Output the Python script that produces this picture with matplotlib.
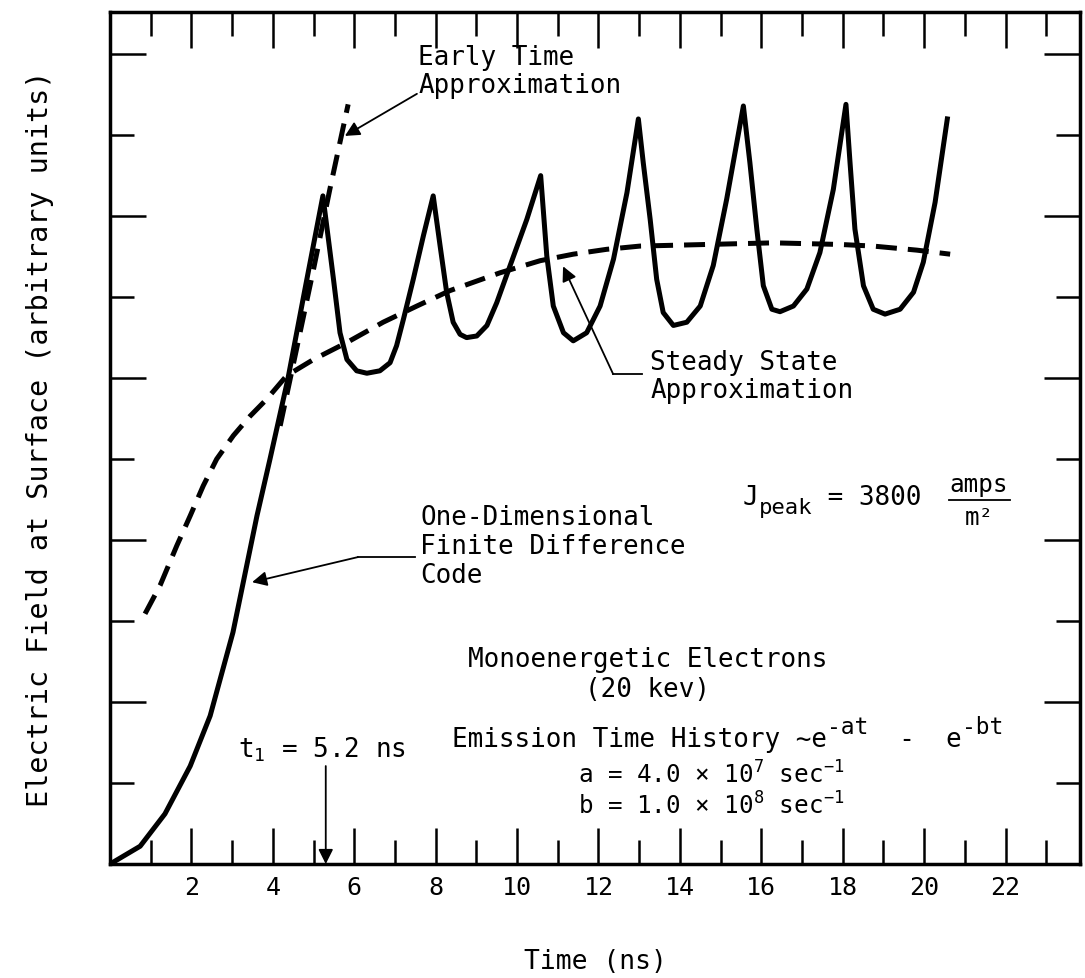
import matplotlib.pyplot as plt

plt.rcParams['font.family'] = ['DejaVu Sans Mono', 'DejaVu Sans']
plt.rcParams['mathtext.fontset'] = 'custom'
plt.rcParams['mathtext.rm'] = 'DejaVu Sans Mono'
plt.rcParams['mathtext.it'] = 'DejaVu Sans Mono'
plt.rcParams['mathtext.bf'] = 'DejaVu Sans Mono:bold'

# one-dimensional finite difference code (solid)
t_code = [0, 0.74, 1.35, 1.97, 2.46, 3.02, 3.61, 3.93, 4.37, 4.79, 5.23,
          5.49, 5.65, 5.82, 6.06, 6.31, 6.63, 6.88, 7.04, 7.21, 7.45, 7.70, 7.94,
          8.11, 8.27, 8.43, 8.60, 8.76, 9.01, 9.26, 9.50, 9.83, 10.24, 10.58,
          10.73, 10.89, 11.14, 11.38, 11.71, 12.04, 12.37, 12.70, 12.98,
          13.10, 13.27, 13.43, 13.59, 13.84, 14.17, 14.50, 14.82, 15.15, 15.56,
          15.72, 15.89, 16.05, 16.26, 16.46, 16.79, 17.12, 17.44, 17.77, 18.08,
          18.18, 18.30, 18.51, 18.75, 19.04, 19.41, 19.74, 19.98, 20.27, 20.57]
e_code = [0, 0.22, 0.62, 1.21, 1.83, 2.86, 4.30, 5.00, 5.99, 7.10, 8.25,
          7.22, 6.56, 6.23, 6.09, 6.06, 6.09, 6.19, 6.40, 6.73, 7.22, 7.76, 8.25,
          7.63, 7.06, 6.69, 6.54, 6.50, 6.52, 6.65, 6.93, 7.39, 7.96, 8.50,
          7.51, 6.89, 6.56, 6.46, 6.56, 6.89, 7.47, 8.29, 9.20,
          8.66, 7.96, 7.22, 6.81, 6.65, 6.69, 6.89, 7.39, 8.21, 9.36,
          8.66, 7.84, 7.14, 6.85, 6.82, 6.89, 7.10, 7.55, 8.33, 9.38,
          8.66, 7.84, 7.14, 6.85, 6.79, 6.85, 7.06, 7.43, 8.17, 9.20]

# steady state approximation (dashed)
t_steady = [0.86, 1.23, 1.64, 1.97, 2.29, 2.62, 3.03, 3.44, 3.85, 4.34, 5.00,
            5.82, 6.71, 7.54, 8.35, 9.58, 10.57, 11.38, 12.20, 13.02, 14.66,
            16.30, 17.94, 18.75, 19.82, 20.64]
e_steady = [3.09, 3.44, 3.93, 4.30, 4.67, 5.00, 5.29, 5.53, 5.74, 6.03, 6.23,
            6.44, 6.69, 6.89, 7.08, 7.30, 7.45, 7.53, 7.59, 7.63, 7.65,
            7.67, 7.65, 7.63, 7.58, 7.53]

# early time approximation (dashed)
t_early = [4.18, 4.60, 5.01, 5.40, 5.85]
e_early = [5.41, 6.40, 7.37, 8.33, 9.38]

x_major = [2, 4, 6, 8, 10, 12, 14, 16, 18, 20, 22]
x_minor = [1, 3, 5, 7, 9, 11, 13, 15, 17, 19, 21, 23]
y_major = [2, 4, 6, 8, 10]
y_minor = [1, 3, 5, 7, 9]
t_one = 5.3

fig = plt.figure(figsize=(10.85, 9.79), dpi=100)
ax = fig.add_axes([0.1014, 0.1164, 0.894, 0.8703])

dash = (0, (4.2, 2.2))
ax.plot(t_code, e_code, color='black', lw=3.6, solid_joinstyle='round')
ax.plot(t_steady, e_steady, color='black', lw=3.6, linestyle=dash)
ax.plot(t_early, e_early, color='black', lw=3.6, linestyle=dash)

ax.set_xlim(0, 23.83)
ax.set_ylim(0, 10.52)
ax.set_xticks(x_major)
ax.set_xticklabels([str(v) for v in x_major])
ax.set_xticks(x_minor, minor=True)
ax.set_yticks(y_major)
ax.set_yticklabels([])
ax.set_yticks(y_minor, minor=True)
ax.tick_params(which='both', direction='in', top=True, right=True, width=1.8,
               labelsize=18, pad=8)
ax.tick_params(which='major', length=26)
ax.tick_params(which='minor', length=17)
for s in ax.spines.values():
    s.set_linewidth(2.5)

ax.set_xlabel('Time (ns)', fontsize=19, labelpad=35)
ax.set_ylabel('Electric Field at Surface (arbitrary units)', fontsize=20.5,
              labelpad=32)

fs = 18.7
arr = dict(arrowstyle='-|>', color='black', lw=1.3, mutation_scale=22,
           shrinkA=0, shrinkB=0)


def chain(prev, s, dy, size):
    # next piece of text placed right after prev, shifted dy points up
    return ax.annotate(s, xy=(1, 0), xycoords=prev, xytext=(0, dy),
                       textcoords='offset points', fontsize=size, va='bottom')


ax.text(7.57, 10.12, 'Early Time\nApproximation', fontsize=fs, va='top',
        linespacing=1.1)
ax.annotate('', xy=(5.77, 8.99), xytext=(7.54, 9.51), arrowprops=arr)

ax.text(13.27, 6.36, 'Steady State\nApproximation', fontsize=fs, va='top',
        linespacing=1.1)
ax.plot([13.07, 12.36], [6.05, 6.05], color='black', lw=1.3)
ax.annotate('', xy=(11.13, 7.38), xytext=(12.36, 6.05), arrowprops=arr)

ax.text(7.62, 4.45, 'One-Dimensional\nFinite Difference\nCode', fontsize=fs,
        va='top', linespacing=1.15)
ax.plot([7.49, 6.09], [3.79, 3.79], color='black', lw=1.3)
ax.annotate('', xy=(3.49, 3.48), xytext=(6.09, 3.79), arrowprops=arr)

# J peak with a full size fraction
jt = ax.text(15.55, 4.44, 'J', fontsize=fs, va='baseline')
pk = chain(jt, 'peak', -5, 16)
chain(pk, ' = 3800', 5, fs)
ax.text(21.35, 4.60, 'amps', fontsize=17.5, ha='center', va='baseline')
ax.plot([20.6, 22.1], [4.50, 4.50], color='black', lw=1.3)
ax.text(21.35, 4.43, 'm²', fontsize=17.5, ha='center', va='top')

ax.text(13.2, 2.53, 'Monoenergetic Electrons', fontsize=fs, ha='center', va='center')
ax.text(13.2, 2.16, '(20 kev)', fontsize=fs, ha='center', va='center')

# emission history with raised exponents
em = ax.text(8.40, 1.46, 'Emission Time History ∼e', fontsize=fs, va='baseline')
s1 = chain(em, '-at', 10, 16.5)
mid = chain(s1, '  -  e', -10, fs)
chain(mid, '-bt', 10, 16.5)

ax.text(11.5, 1.00, r'a = 4.0 $\times$ 10$^7$ sec$^{-1}$', fontsize=17.5, va='baseline')
ax.text(11.5, 0.62, r'b = 1.0 $\times$ 10$^8$ sec$^{-1}$', fontsize=17.5, va='baseline')
ax.text(3.14, 1.33, r't$_1$ = 5.2 ns', fontsize=fs, va='baseline')
ax.annotate('', xy=(t_one, 0), xytext=(t_one, 1.21), arrowprops=arr)

fig.savefig('out.png', dpi=100)
